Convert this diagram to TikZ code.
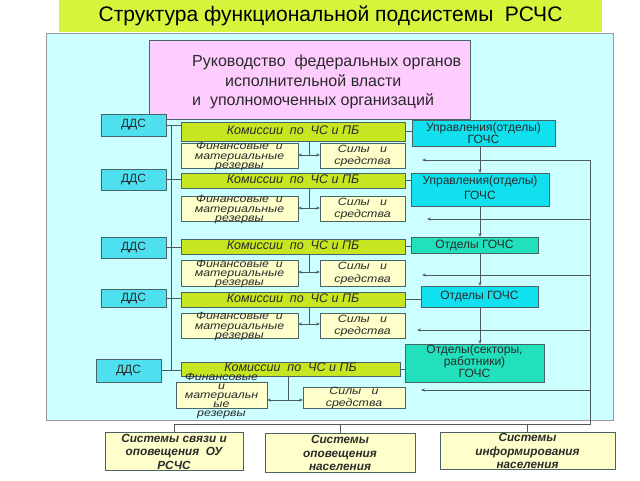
\documentclass[tikz,border=0pt]{standalone}
\usepackage{fontspec}
\setmainfont{Liberation Sans}
\newfontfamily\wideit[FakeStretch=1.18]{Liberation Sans}
\usetikzlibrary{arrows.meta}
\definecolor{titleg}{HTML}{D4F53C}
\definecolor{panelc}{HTML}{CCFFFF}
\definecolor{pinkc}{HTML}{FFCCFF}
\definecolor{ddsc}{HTML}{4FE0F0}
\definecolor{cyanr}{HTML}{11E0EE}
\definecolor{tealr}{HTML}{22E0BB}
\definecolor{commc}{HTML}{C5E620}
\definecolor{creamc}{HTML}{FFFFCC}
\definecolor{bordc}{HTML}{4A6466}
\definecolor{linec}{HTML}{505A5C}
\definecolor{txtc}{HTML}{2A2A2A}
\newcommand\bx[7]{\node[#2,minimum width={(#5-#3)*1pt},minimum height={(#6-#4)*1pt},anchor=north west] (#1) at (#3,#4) {#7};}
\newcommand\st[2]{\smash{\raisebox{#1}{\begin{tabular}{@{}c@{}}#2\end{tabular}}}}
\tikzset{
  box/.style={draw=bordc, line width=0.6pt, inner sep=0pt, outer sep=0pt, text=txtc},
  titlebar/.style={fill=titleg, inner sep=0pt, outer sep=0pt, font=\fontsize{21}{24}\selectfont},
  panelbox/.style={box, fill=panelc, draw=gray!80},
  pinkbox/.style={box, fill=pinkc},
  ddsbox/.style={box, fill=ddsc, font=\fontsize{12}{12}\selectfont},
  commbar/.style={box, fill=commc, font=\itshape\fontsize{12.5}{12}\selectfont},
  finbox/.style={box, fill=creamc, font=\wideit\itshape\fontsize{10.5}{9.2}\selectfont},
  silybox/.style={box, fill=creamc, font=\wideit\itshape\fontsize{10.5}{12.5}\selectfont},
  rbox/.style={box, fill=cyanr, font=\fontsize{12}{11.5}\selectfont},
  tbox/.style={rbox, fill=tealr},
  botbox/.style={box, fill=creamc, font=\bfseries\itshape\fontsize{11.8}{13.5}\selectfont},
  conn/.style={draw=linec, line width=0.7pt},
  arr/.style={conn, -{Stealth[length=4pt,width=3pt]}},
  darr/.style={conn, {Stealth[length=4pt,width=3pt]}-{Stealth[length=4pt,width=3pt]}},
}
\begin{document}
\begin{tikzpicture}[x=1pt,y=-1pt]
\fill[white] (0,0) rectangle (640,480);
\useasboundingbox (0,0) rectangle (640,480);
% title and panel
\bx{title}{titlebar}{59}{0}{602}{32}{Структура функциональной подсистемы\ \ РСЧС}
\bx{panel}{panelbox}{46}{33}{613}{420}{}
\bx{pink}{pinkbox}{149}{40}{470}{119}{}
\node[anchor=north west, inner sep=0pt, font=\fontsize{16}{19.5}\selectfont, text=txtc] (pinktext) at (192,53)
 {\begin{tabular}{@{}l@{}}Руководство\ \ федеральных органов\\\hspace*{33pt}исполнительной власти\\и\ \ уполномоченных организаций\end{tabular}};
% DDS
\bx{dds1}{ddsbox}{101}{114}{166}{136}{ДДС}
\bx{dds2}{ddsbox}{101}{169}{166}{190}{ДДС}
\bx{dds3}{ddsbox}{101}{237}{166}{258}{ДДС}
\bx{dds4}{ddsbox}{101}{289}{166}{307}{ДДС}
\bx{dds5}{ddsbox}{96}{359}{161}{382}{ДДС}
% commissions
\bx{com1}{commbar}{181}{122}{405}{141}{\st{-3.5pt}{Комиссии\ \ по\ \ ЧС и ПБ}}
\bx{com2}{commbar}{181}{173}{405}{188}{\st{-3pt}{Комиссии\ \ по\ \ ЧС и ПБ}}
\bx{com3}{commbar}{181}{239}{405}{254}{\st{-3pt}{Комиссии\ \ по\ \ ЧС и ПБ}}
\bx{com4}{commbar}{181}{292}{405}{307}{\st{-3pt}{Комиссии\ \ по\ \ ЧС и ПБ}}
\bx{com5}{commbar}{181}{362}{400}{376}{\st{-3pt}{Комиссии\ \ по\ \ ЧС и ПБ}}
% reserves
\bx{fin1}{finbox}{181}{143}{298}{168}{\st{-4pt}{Финансовые\ \ и\\материальные\\резервы}}
\bx{fin2}{finbox}{181}{196}{298}{221}{\st{-4pt}{Финансовые\ \ и\\материальные\\резервы}}
\bx{fin3}{finbox}{181}{260}{298}{286}{\st{-4pt}{Финансовые\ \ и\\материальные\\резервы}}
\bx{fin4}{finbox}{181}{313}{298}{338}{\st{-4pt}{Финансовые\ \ и\\материальные\\резервы}}
\bx{fin5}{finbox}{176}{382}{267}{408}{\st{-4pt}{Финансовые\\и\\материальн\\ые\\резервы}}
% forces
\bx{sil1}{silybox}{320}{143}{405}{168}{\st{-3pt}{Силы\ \ \ и\\средства}}
\bx{sil2}{silybox}{320}{196}{405}{221}{\st{-3pt}{Силы\ \ \ и\\средства}}
\bx{sil3}{silybox}{320}{260}{405}{286}{\st{-3pt}{Силы\ \ \ и\\средства}}
\bx{sil4}{silybox}{320}{313}{405}{338}{\st{-3pt}{Силы\ \ \ и\\средства}}
\bx{sil5}{silybox}{303}{387}{405}{408}{\st{-3pt}{Силы\ \ \ и\\средства}}
% right column
\bx{r1}{rbox}{412}{120}{555}{146}{\st{-5pt}{Управления(отделы)\\ГОЧС}}
\bx{r2}{rbox}{411}{173}{549}{206}{\st{-3pt}{Управления(отделы)\\[3pt]ГОЧС}}
\bx{r3}{tbox}{411}{237}{538}{253}{Отделы ГОЧС}
\bx{r4}{rbox}{421}{286}{538}{307}{Отделы ГОЧС}
\bx{r5}{tbox}{405}{344}{544}{382}{\st{-3pt}{Отделы(секторы,\\работники)\\ГОЧС}}
% bottom
\bx{bA}{botbox}{105}{432}{243}{470}{\st{-5pt}{Системы связи и\\оповещения\ \ ОУ\\РСЧС}}
\bx{bB}{botbox}{265}{433}{415}{472}{\st{-5pt}{Системы\\оповещения\\населения}}
\bx{bC}{botbox}{440}{432}{615}{469}{\st{-5pt}{Системы\\информирования\\населения}}
% left bus
\coordinate (lbT) at (171,125);
\coordinate (lbB) at (171,371);
\draw[conn] (lbT) -- (lbB);
\foreach \i in {1,...,5}{
  \draw[conn] (dds\i.east) -- (com\i.west |- dds\i.east);
  \draw[conn] (com\i.east) -- (r\i.west |- com\i.east);
}
% commission -> reserves/forces
\coordinate (j1) at (309,155);
\coordinate (j2) at (309,208);
\coordinate (j3) at (309,272);
\coordinate (j4) at (309,324);
\coordinate (j5) at (288,400);
\foreach \i in {1,...,5}{
  \draw[conn] (com\i.south -| j\i) -- (j\i);
  \draw[darr] (fin\i.east |- j\i) -- (sil\i.west |- j\i);
}
% right column vertical arrows
\coordinate (rx) at (480,0);
\draw[arr] (r1.south -| rx) -- (r2.north -| rx);
\draw[arr] (r2.south -| rx) -- (r3.north -| rx);
\draw[arr] (r3.south -| rx) -- (r4.north -| rx);
\draw[arr] (r4.south -| rx) -- (r5.north -| rx);
% right feedback bus
\coordinate (h1) at (590,160); \coordinate (t1) at (422,160);
\coordinate (h2) at (590,219); \coordinate (t2) at (427,219);
\coordinate (h3) at (590,275); \coordinate (t3) at (422,275);
\coordinate (h4) at (590,330); \coordinate (t4) at (417,330);
\coordinate (h5) at (590,390); \coordinate (t5) at (421,390);
\coordinate (bR) at (590,424);
\coordinate (bL) at (174,424);
\draw[conn] (h1) -- (bR) -- (bL);
\foreach \i in {1,...,5}{ \draw[arr] (h\i) -- (t\i); }
\draw[conn] (bA.north) -- (bA.north |- bL);
\draw[conn] (bB.north) -- (bB.north |- bL);
\draw[conn] (bC.north) -- (bC.north |- bL);
\end{tikzpicture}
\end{document}
